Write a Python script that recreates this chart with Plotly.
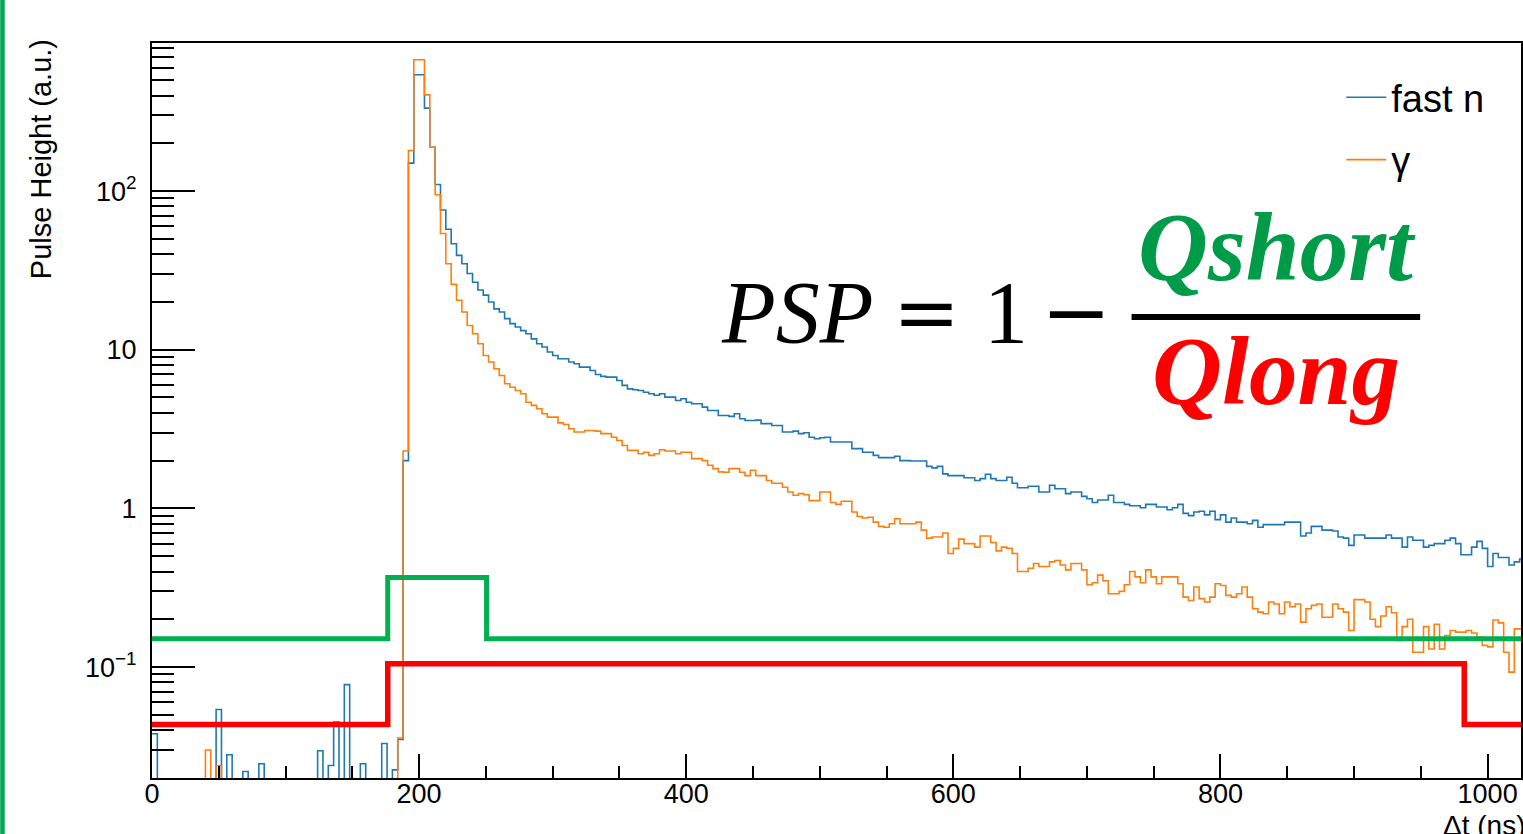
import numpy as np
import plotly.graph_objects as go

# ---------------- data ----------------
BIN_WIDTH = 4  # ns, histogram bins start at 0

fast_n = [
    0.038, 0, 0, 0, 0, 0, 0, 0, 0, 0,
    0, 0, 0.054, 0, 0.028, 0, 0, 0.022, 0, 0,
    0.0246, 0, 0, 0, 0, 0, 0, 0, 0, 0,
    0, 0.0297, 0, 0.024, 0.045, 0, 0.0775, 0, 0, 0.0246,
    0, 0, 0, 0.033, 0, 0.0225, 0.035, 2.0, 150, 541,
    541, 333, 189, 110, 76, 57.5, 46.5, 39.3, 34.8, 30.2,
    26.6, 23.8, 22.1, 20.0, 18.1, 17.3, 15.7, 14.6, 13.9, 13.2,
    12.6, 11.7, 10.9, 10.4, 9.67, 9.2, 8.77, 8.77, 8.36, 8.15,
    7.77, 7.77, 7.4, 6.98, 6.79, 6.72, 6.72, 6.4, 5.96, 5.67,
    5.6, 5.53, 5.4, 5.28, 5.16, 5.28, 5.03, 5.03, 4.79, 4.91,
    4.67, 4.57, 4.57, 4.35, 4.14, 4.14, 3.85, 3.85, 3.80, 3.95,
    3.67, 3.58, 3.58, 3.6, 3.42, 3.42, 3.33, 3.33, 3.03, 3.03,
    3.07, 2.96, 3.0, 2.81, 2.75, 2.79, 2.81, 2.62, 2.62, 2.62,
    2.62, 2.38, 2.38, 2.26, 2.26, 2.16, 2.09, 2.09, 2.09, 2.13,
    2.0, 2.0, 1.99, 1.99, 1.99, 1.84, 1.80, 1.84, 1.65, 1.61,
    1.61, 1.61, 1.56, 1.56, 1.50, 1.54, 1.64, 1.54, 1.50, 1.50,
    1.57, 1.44, 1.35, 1.35, 1.38, 1.38, 1.27, 1.27, 1.40, 1.33,
    1.33, 1.24, 1.27, 1.27, 1.19, 1.15, 1.09, 1.13, 1.13, 1.21,
    1.09, 1.09, 1.06, 1.04, 1.04, 1.01, 1.06, 1.06, 1.02, 1.02,
    0.98, 1.01, 1.06, 0.93, 0.90, 0.95, 0.96, 0.91, 0.96, 0.85,
    0.91, 0.82, 0.87, 0.82, 0.82, 0.80, 0.84, 0.76, 0.79, 0.79,
    0.79, 0.79, 0.82, 0.82, 0.82, 0.67, 0.70, 0.77, 0.77, 0.73,
    0.73, 0.72, 0.66, 0.65, 0.585, 0.68, 0.68, 0.65, 0.65, 0.65,
    0.65, 0.68, 0.65, 0.65, 0.57, 0.66, 0.63, 0.63, 0.57, 0.585,
    0.60, 0.60, 0.63, 0.65, 0.60, 0.51, 0.51, 0.57, 0.62, 0.56,
    0.43, 0.52, 0.49, 0.49, 0.44, 0.46, 0.48,
]

gamma = [
    0, 0, 0, 0, 0, 0, 0, 0, 0, 0,
    0.030, 0, 0.024, 0, 0, 0, 0, 0, 0, 0,
    0, 0, 0, 0, 0, 0, 0, 0, 0, 0,
    0, 0, 0, 0, 0, 0, 0, 0, 0, 0,
    0, 0, 0, 0, 0, 0, 0.0357, 2.3, 180, 672,
    672, 404, 189, 94.8, 54, 34.8, 25.8, 20.5, 17.3, 14.2,
    12.6, 10.9, 9.2, 8.36, 7.58, 6.88, 6.1, 5.8, 5.53, 5.28,
    4.67, 4.46, 4.25, 3.95, 3.76, 3.76, 3.46, 3.38, 3.18, 3.03,
    3.03, 3.10, 3.10, 3.07, 2.96, 2.96, 2.81, 2.68, 2.49, 2.32,
    2.32, 2.21, 2.26, 2.16, 2.21, 2.34, 2.30, 2.30, 2.21, 2.26,
    2.26, 2.06, 2.06, 2.0, 1.87, 1.78, 1.70, 1.69, 1.78, 1.78,
    1.69, 1.61, 1.74, 1.61, 1.61, 1.50, 1.44, 1.44, 1.36, 1.27,
    1.21, 1.24, 1.22, 1.12, 1.12, 1.27, 1.27, 1.09, 1.06, 1.11,
    1.11, 0.95, 0.89, 0.87, 0.88, 0.82, 0.77, 0.76, 0.80, 0.86,
    0.80, 0.80, 0.80, 0.82, 0.73, 0.65, 0.66, 0.66, 0.70, 0.52,
    0.56, 0.64, 0.60, 0.60, 0.57, 0.67, 0.67, 0.61, 0.54, 0.57,
    0.56, 0.52, 0.40, 0.40, 0.42, 0.45, 0.43, 0.43, 0.46, 0.47,
    0.44, 0.41, 0.45, 0.45, 0.41, 0.33, 0.34, 0.38, 0.35, 0.29,
    0.29, 0.30, 0.33, 0.40, 0.37, 0.34, 0.41, 0.37, 0.335, 0.37,
    0.37, 0.37, 0.335, 0.276, 0.263, 0.32, 0.27, 0.257, 0.276, 0.335,
    0.327, 0.283, 0.276, 0.29, 0.32, 0.276, 0.233, 0.222, 0.217, 0.257,
    0.25, 0.217, 0.257, 0.24, 0.25, 0.192, 0.233, 0.245, 0.25, 0.206,
    0.206, 0.25, 0.233, 0.222, 0.17, 0.266, 0.266, 0.257, 0.20, 0.18,
    0.21, 0.24, 0.22, 0.147, 0.18, 0.20, 0.124, 0.124, 0.18, 0.13,
    0.186, 0.13, 0.158, 0.17, 0.166, 0.166, 0.17, 0.164, 0.154, 0.137,
    0.134, 0.198, 0.19, 0.124, 0.093, 0.174, 0.174,
]

# integration gates (ns edges, levels in a.u.)
short_gate_edges = [0, 176.5, 250.5, 1025]
short_gate_levels = [0.151, 0.367, 0.151]
long_gate_edges = [0, 176.5, 982.5, 1025]
long_gate_levels = [0.0435, 0.105, 0.0435]

x_range = [0, 1025]
y_range_log = [-1.699, 2.933]
x_tick_vals = [0, 200, 400, 600, 800, 1000]
y_tick_vals = [0.1, 1, 10, 100]
y_tick_text = ["10<sup>\u22121</sup>", "1", "10", "10<sup>2</sup>"]

# ---------------- layout geometry ----------------
W, H = 1523, 834
L, R, T, B = 152, 0, 43, 56
PW, PH = W - L - R, H - T - B


def xp(px):
    return (px - L) / PW


def yp(py):
    return (H - B - py) / PH


FLOOR = 1e-4  # empty bins drawn down to the frame bottom


def hist_step(values):
    edges = np.arange(len(values) + 1) * BIN_WIDTH
    y = [v if v > 0 else FLOOR for v in values]
    y = y + [y[-1]]
    return edges, y


def gate_step(edges, levels):
    return list(edges), list(levels) + [levels[-1]]


fig = go.Figure()

BLUE = "#1f77b4"
ORANGE = "#ff7f0e"
GREEN = "#00b050"
RED = "#ff0000"

hx, hy = hist_step(fast_n)
fig.add_trace(go.Scatter(x=hx, y=hy, mode="lines", line=dict(color=BLUE, width=1.6, shape="hv"),
                         name="fast n", legendgroup="a"))
hx, hy = hist_step(gamma)
fig.add_trace(go.Scatter(x=hx, y=hy, mode="lines", line=dict(color=ORANGE, width=1.6, shape="hv"),
                         name="\u03b3", legendgroup="b"))

gx, gy = gate_step(short_gate_edges, short_gate_levels)
fig.add_trace(go.Scatter(x=gx, y=gy, mode="lines", line=dict(color=GREEN, width=5, shape="hv"),
                         showlegend=False, hoverinfo="skip"))
gx, gy = gate_step(long_gate_edges, long_gate_levels)
fig.add_trace(go.Scatter(x=gx, y=gy, mode="lines", line=dict(color=RED, width=5.5, shape="hv"),
                         showlegend=False, hoverinfo="skip"))

minor_y = [m * 10 ** k for k in range(-2, 3) for m in range(2, 10)
           if 10 ** y_range_log[0] < m * 10 ** k < 10 ** y_range_log[1]]

SANS = "Liberation Sans, Arial, sans-serif"
SERIF = "Liberation Serif, Times New Roman, serif"
MATHOP = "DejaVu Serif, serif"

fig.update_layout(
    width=W, height=H,
    margin=dict(l=L, r=R, t=T, b=B, pad=0),
    paper_bgcolor="white", plot_bgcolor="white",
    font=dict(family=SANS, size=27, color="black"),
    showlegend=True,
    legend=dict(x=xp(1343), y=yp(66), xanchor="left", yanchor="top",
                font=dict(family=SANS, size=38, color="black"),
                bgcolor="rgba(0,0,0,0)", borderwidth=0, tracegroupgap=10,
                itemwidth=40),
    xaxis=dict(range=x_range, showgrid=False, zeroline=False,
               showline=True, linecolor="black", linewidth=2, mirror=True,
               ticks="inside", ticklen=24, tickwidth=1.5, tickcolor="black",
               tickvals=x_tick_vals, ticktext=[str(v) for v in x_tick_vals],
               tickfont=dict(family=SANS, size=27, color="black"),
               ticklabelstandoff=-9,
               minor=dict(ticks="inside", ticklen=12, tickwidth=1.5, tickcolor="black", dtick=50)),
    yaxis=dict(type="log", range=y_range_log, showgrid=False, zeroline=False,
               showline=True, linecolor="black", linewidth=2, mirror=True,
               ticks="inside", ticklen=43, tickwidth=1.5, tickcolor="black",
               tickvals=y_tick_vals, ticktext=y_tick_text,
               tickfont=dict(family=SANS, size=27, color="black"),
               ticklabelstandoff=8,
               minor=dict(ticks="inside", ticklen=22, tickwidth=1.5, tickcolor="black",
                          tickvals=minor_y)),
)

# axis titles (ROOT style: right / top aligned)
fig.add_annotation(text="Pulse Height (a.u.)", xref="paper", yref="paper",
                   x=xp(41), y=yp(37), xanchor="center", yanchor="top", textangle=-90,
                   showarrow=False, font=dict(family=SANS, size=29, color="black"))
fig.add_annotation(text="\u0394t (ns)", xref="paper", yref="paper",
                   x=xp(1443), y=yp(825), xanchor="left", yanchor="middle",
                   showarrow=False, font=dict(family=SANS, size=28, color="black"))

# PSP formula
fig.add_annotation(text="<i>PSP</i>", xref="paper", yref="paper", x=xp(720), y=yp(312),
                   xanchor="left", yanchor="middle", showarrow=False,
                   font=dict(family=SERIF, size=88, color="black"))
fig.add_annotation(text="=", xref="paper", yref="paper", x=xp(928), y=yp(312),
                   xanchor="center", yanchor="middle", showarrow=False,
                   font=dict(family=MATHOP, size=80, color="black"))
fig.add_annotation(text="1", xref="paper", yref="paper", x=xp(1007), y=yp(312),
                   xanchor="center", yanchor="middle", showarrow=False,
                   font=dict(family=SERIF, size=88, color="black"))
fig.add_annotation(text="\u2212", xref="paper", yref="paper", x=xp(1077), y=yp(312),
                   xanchor="center", yanchor="middle", showarrow=False,
                   font=dict(family=MATHOP, size=84, color="black"))
fig.add_annotation(text="<b><i>Qshort</i></b>", xref="paper", yref="paper", x=xp(1279), y=yp(247),
                   xanchor="center", yanchor="middle", showarrow=False,
                   font=dict(family=SERIF, size=97, color="#009b48"))
fig.add_annotation(text="<b><i>Qlong</i></b>", xref="paper", yref="paper", x=xp(1278), y=yp(371),
                   xanchor="center", yanchor="middle", showarrow=False,
                   font=dict(family=SERIF, size=97, color="#ff0000"))
fig.add_shape(type="line", xref="paper", yref="paper", x0=xp(1133), x1=xp(1422), y0=yp(317), y1=yp(317),
              line=dict(color="black", width=6))

# green slide border on the left
fig.add_shape(type="rect", xref="paper", yref="paper", x0=xp(0), x1=xp(4.5), y0=yp(H), y1=yp(0),
              line=dict(width=0), fillcolor="#00a651", layer="above")

fig.write_html("out.html")
